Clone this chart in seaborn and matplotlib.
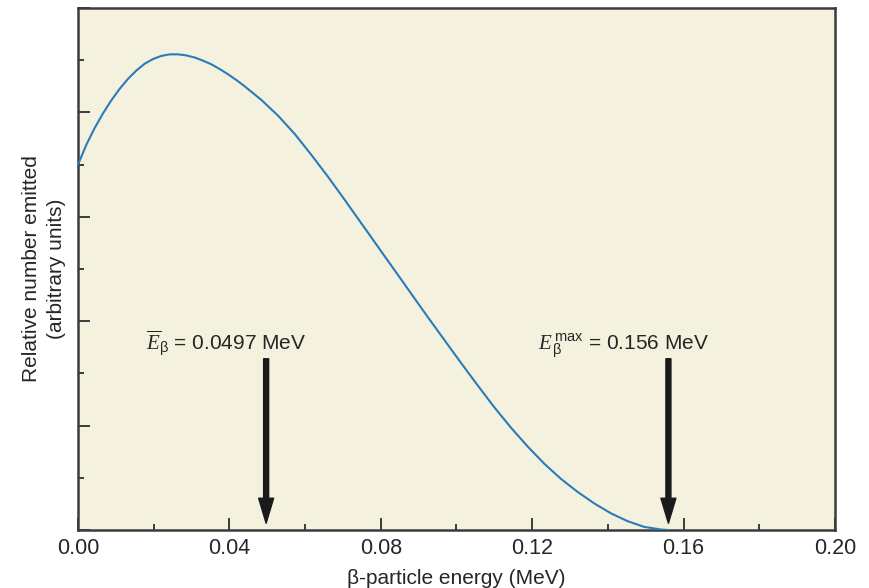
import matplotlib
matplotlib.use("Agg")
import matplotlib.pyplot as plt
from matplotlib.ticker import MultipleLocator, FormatStrFormatter, NullFormatter
import pandas as pd
import seaborn as sns

# Beta-particle energy spectrum (relative number emitted vs. energy)
energy_mev = [
    0.0000, 0.0022, 0.0044, 0.0066, 0.0088, 0.0110, 0.0132, 0.0154, 0.0176,
    0.0198, 0.0220, 0.0242, 0.0264, 0.0286, 0.0308, 0.0330, 0.0352, 0.0374,
    0.0396, 0.0418, 0.0440, 0.0484, 0.0528, 0.0572, 0.0616, 0.0660, 0.0704,
    0.0748, 0.0792, 0.0836, 0.0880, 0.0924, 0.0968, 0.1012, 0.1056, 0.1100,
    0.1144, 0.1188, 0.1232, 0.1276, 0.1320, 0.1364, 0.1408, 0.1452, 0.1496,
    0.1540, 0.1560,
]
relative_number = [
    7.00, 7.38, 7.70, 7.98, 8.23, 8.45, 8.64, 8.80, 8.93,
    9.02, 9.08, 9.11, 9.11, 9.09, 9.05, 8.99, 8.92, 8.83,
    8.73, 8.62, 8.50, 8.24, 7.94, 7.59, 7.19, 6.77, 6.33,
    5.88, 5.43, 4.98, 4.53, 4.08, 3.64, 3.20, 2.77, 2.35,
    1.96, 1.60, 1.27, 0.98, 0.73, 0.51, 0.32, 0.17, 0.06,
    0.01, 0.00,
]

# Marked energies
mean_energy = 0.0497
max_energy = 0.156
mean_label = r"$\overline{E}_{\mathrm{β}}$ = 0.0497 MeV"
max_label = r"$E^{\,\mathrm{max}}_{\,\mathrm{β}}$ = 0.156 MeV"

sns.set_theme(style="ticks")
plt.rcParams["font.family"] = ["Liberation Sans", "DejaVu Sans"]
plt.rcParams["mathtext.fontset"] = "custom"
plt.rcParams["mathtext.rm"] = "Liberation Sans"
plt.rcParams["mathtext.it"] = "Liberation Serif:italic"
plt.rcParams["mathtext.bf"] = "Liberation Sans:bold"

text_color = "#262626"
spine_color = "#3c3c3c"

fig = plt.figure(figsize=(8.7, 5.88), dpi=100)
ax = fig.add_axes([0.0897, 0.0986, 0.870, 0.888])
ax.set_facecolor("#F5F1DF")

df = pd.DataFrame({"energy": energy_mev, "number": relative_number})
sns.lineplot(data=df, x="energy", y="number", ax=ax, color="#2B7BB9",
             linewidth=1.5, zorder=3)

ax.set_xlim(0, 0.20)
ax.set_ylim(0, 10)

ax.xaxis.set_major_locator(MultipleLocator(0.04))
ax.xaxis.set_minor_locator(MultipleLocator(0.02))
ax.xaxis.set_major_formatter(FormatStrFormatter("%.2f"))
ax.yaxis.set_major_locator(MultipleLocator(2))
ax.yaxis.set_minor_locator(MultipleLocator(1))
ax.yaxis.set_major_formatter(NullFormatter())

ax.tick_params(which="both", direction="in", color=spine_color,
               top=False, right=False)
ax.tick_params(which="major", length=8.5, width=1.4, pad=6,
               labelsize=15.5, labelcolor=text_color)
ax.tick_params(which="minor", length=4, width=1.4)

for spine in ax.spines.values():
    spine.set_visible(True)
    spine.set_linewidth(1.8)
    spine.set_color(spine_color)

ax.set_xlabel("β-particle energy (MeV)", fontsize=15, color=text_color,
              labelpad=7)
ax.set_ylabel("Relative number emitted\n(arbitrary units)", fontsize=15,
              color=text_color, labelpad=3, linespacing=1.4)

arrow_style = dict(arrowstyle="simple,head_length=1.0,head_width=0.6,tail_width=0.2",
                   mutation_scale=18, color="#1a1a1a", shrinkA=0, shrinkB=0)
for xv, label, lx in [(mean_energy, mean_label, 0.0392),
                      (max_energy, max_label, 0.1441)]:
    ax.annotate("", xy=(xv, 0.13), xytext=(xv, 3.28),
                arrowprops=arrow_style, zorder=4)
    ax.text(lx, 3.45, label, ha="center", va="baseline", fontsize=15,
            color=text_color)

fig.savefig("out.png", dpi=100)
